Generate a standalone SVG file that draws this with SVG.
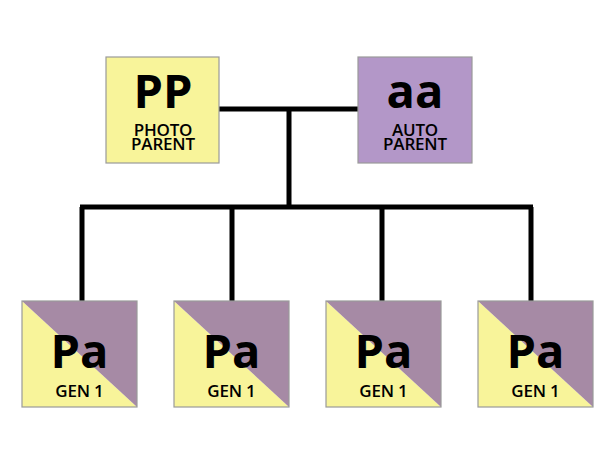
<svg xmlns="http://www.w3.org/2000/svg" width="612" height="460" viewBox="0 0 612 460">
<style>
.box{stroke:#9a9a9a;stroke-width:1.2}
.y{fill:#f8f49a}
.pp{fill:#b397c8}
.cp{fill:#a68aa5}
.big{font-family:"Open Sans","Liberation Sans",sans-serif;font-weight:700;font-size:47px;fill:#000;text-anchor:middle}
.sm{font-family:"Open Sans","Liberation Sans",sans-serif;font-weight:600;font-size:17px;fill:#000;text-anchor:middle;letter-spacing:-0.2px}
.ln{stroke:#000;stroke-width:5;fill:none}
</style>
<rect width="612" height="460" fill="#fff"/>
<g id="connectors">
<path class="ln" d="M219 109H358M289 109V207M80 207H533M82 207V301M232 207V301M382 207V301M531 207V301"/>
</g>
<g id="photo-parent">
<rect class="box y" x="106" y="57" width="113" height="106"/>
<text class="big" x="163" y="108">PP</text>
<text class="sm" x="163" y="135.5">PHOTO</text>
<text class="sm" x="163" y="149.5">PARENT</text>
</g>
<g id="auto-parent">
<rect class="box pp" x="358" y="57" width="114" height="106"/>
<text class="big" x="415" y="108">aa</text>
<text class="sm" x="415" y="135.5">AUTO</text>
<text class="sm" x="415" y="149.5">PARENT</text>
</g>
<g id="gen1-a">
<polygon class="y" points="22,301 137,407 22,407"/>
<polygon class="cp" points="22,301 137,301 137,407"/>
<rect class="box" fill="none" x="22" y="301" width="115" height="106"/>
<text class="big" x="79.5" y="368">Pa</text>
<text class="sm" x="79.5" y="397">GEN 1</text>
</g>
<g id="gen1-b">
<polygon class="y" points="174,301 289,407 174,407"/>
<polygon class="cp" points="174,301 289,301 289,407"/>
<rect class="box" fill="none" x="174" y="301" width="115" height="106"/>
<text class="big" x="231.5" y="368">Pa</text>
<text class="sm" x="231.5" y="397">GEN 1</text>
</g>
<g id="gen1-c">
<polygon class="y" points="326,301 441,407 326,407"/>
<polygon class="cp" points="326,301 441,301 441,407"/>
<rect class="box" fill="none" x="326" y="301" width="115" height="106"/>
<text class="big" x="383.5" y="368">Pa</text>
<text class="sm" x="383.5" y="397">GEN 1</text>
</g>
<g id="gen1-d">
<polygon class="y" points="478,301 593,407 478,407"/>
<polygon class="cp" points="478,301 593,301 593,407"/>
<rect class="box" fill="none" x="478" y="301" width="115" height="106"/>
<text class="big" x="535.5" y="368">Pa</text>
<text class="sm" x="535.5" y="397">GEN 1</text>
</g>
</svg>
